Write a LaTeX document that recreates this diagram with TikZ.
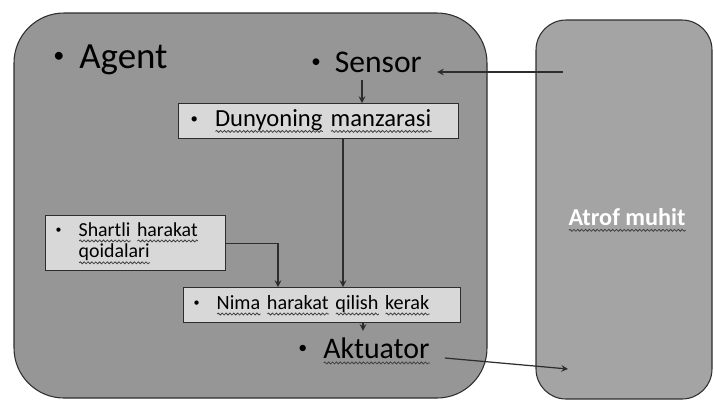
\documentclass[tikz,border=0pt]{standalone}
\usepackage{fontspec}
\setmainfont{Carlito}
\usepackage{xcolor}
\usetikzlibrary{arrows, positioning, decorations.pathmorphing}
\definecolor{agentgrigio}{RGB}{150,150,150}
\definecolor{ambientegrigio}{RGB}{164,164,164}
\definecolor{boxgrigio}{RGB}{216,216,216}
\definecolor{bordo}{RGB}{45,45,45}
\tikzset{
    >=stealth, % punte delle frecce
    contenitore/.style={draw=bordo, line width=0.6pt, fill=agentgrigio},
    riquadro/.style={draw=bordo, line width=0.8pt, fill=boxgrigio, rectangle, anchor=north west, align=left},
    voce/.style={inner sep=0pt, anchor=base west, text=black},
    freccia/.style={->, line width=0.7pt, draw=bordo},
    ondulata/.style={line width=0.45pt, draw=black!75, decorate,
        decoration={snake, segment length=2.2pt, amplitude=0.55pt}},
}
% puntino dell'elenco
\newcommand{\punto}{\raisebox{0.14em}{\scalebox{0.6}{\textbullet}}}
% sottolineatura ondulata del correttore
\newsavebox{\ondabox}
\newcommand{\onda}[1]{\sbox{\ondabox}{#1}%
  \rlap{\tikz[baseline=0pt, x=1pt, y=1pt]\draw[ondulata] (0,-2.8) -- (\the\wd\ondabox,-2.8);}%
  \usebox{\ondabox}}

\begin{document}
\begin{tikzpicture}[x=0.02cm, y=-0.02cm]
    \useasboundingbox (0,0) rectangle (714,407);

    % Agente
    \draw[contenitore, rounded corners=1cm] (14,13) rectangle (487,398);
    \node[voce, font=\fontsize{21}{25}\selectfont] (agente) at (53,68) {\punto\hspace{0.3cm}Agent};

    % Ambiente
    \draw[contenitore, fill=ambientegrigio, rounded corners=0.6cm] (536,20) rectangle (712,399);
    \node[font=\fontsize{13.8}{16}\selectfont\bfseries, text=white] (ambiente) at (627,220) {\onda{Atrof muhit}};

    % Sensore e attuatore
    \node[voce, font=\fontsize{18}{21}\selectfont] (sensore) at (311,72) {\punto\hspace{0.28cm}Sensor};
    \node[voce, font=\fontsize{17}{20}\selectfont] (attuatore) at (298,358) {\punto\hspace{0.32cm}\onda{Aktuator}};

    % Riquadri interni
    \node[riquadro, inner xsep=0.24cm, text width=5.12cm, minimum height=0.6cm,
          font=\fontsize{14}{16}\selectfont] (mondo) at (178,103)
          {\punto\hspace{0.34cm}\onda{Dunyoning} \onda{manzarasi}};
    \node[riquadro, inner xsep=0.2cm, text width=3.2cm, minimum height=1.1cm,
          font=\fontsize{11.3}{9}\selectfont] (regole) at (45,215)
          {\makebox[0.46cm][l]{\punto}\onda{Shartli} \onda{harakat}\\\hspace*{0.46cm}\onda{qoidalari}};
    \node[riquadro, inner xsep=0.2cm, text width=5.14cm, minimum height=0.7cm,
          font=\fontsize{11.5}{13}\selectfont] (azione) at (183,287)
          {\punto\hspace{0.34cm}\onda{Nima} \onda{harakat} \onda{qilish} \onda{kerak}};

    % Assi verticali delle frecce
    \coordinate (asse1) at (362,0);
    \coordinate (asse2) at (343,0);
    \coordinate (asse3) at (278,0);
    \coordinate (asse4) at (363,0);
    \coordinate (ingresso) at (563,72);
    \coordinate (uscita) at (568,369);

    % Frecce
    \draw[freccia] (ingresso) -- ([xshift=0.3cm]sensore.base east);
    \draw[freccia, shorten <=0.15cm] (sensore.south -| asse1) -- (mondo.north -| asse1);
    \draw[freccia] (mondo.south -| asse2) -- (azione.north -| asse2);
    \draw[freccia] (regole.east) -| (azione.north -| asse3);
    \draw[freccia, shorten >=0.12cm] (azione.south -| asse4) -- (attuatore.north -| asse4);
    \draw[freccia] ([xshift=0.3cm]attuatore.base east) -- (uscita);
\end{tikzpicture}
\end{document}
